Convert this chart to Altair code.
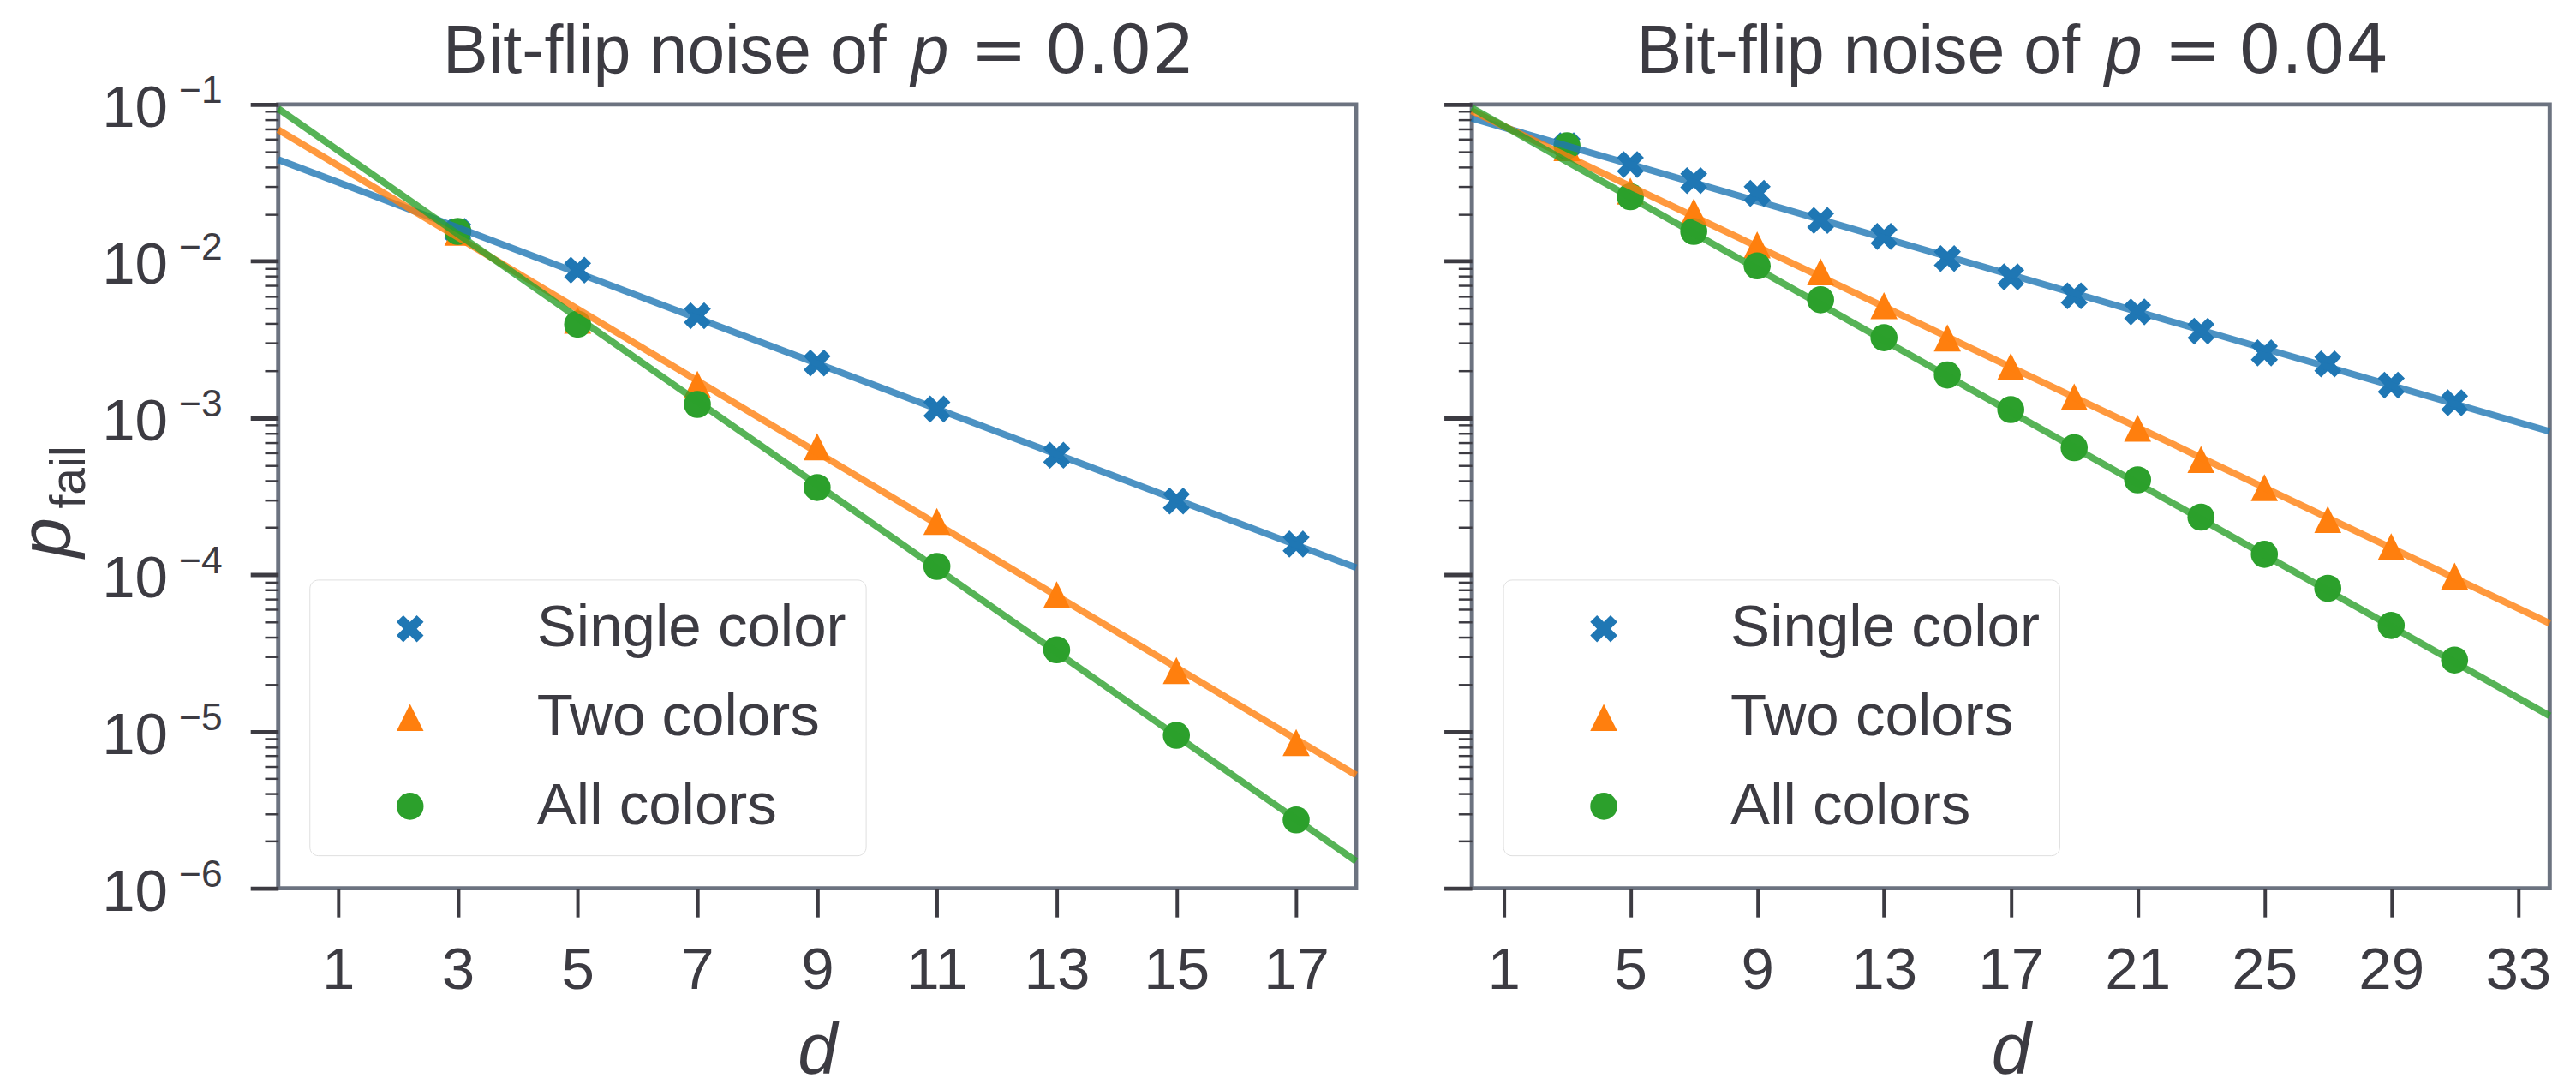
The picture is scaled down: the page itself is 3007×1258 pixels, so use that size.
import altair as alt
import pandas as pd

FONT = "Liberation Sans"
MATH_FONT = "DejaVu Sans"
TXT = "#3c3b42"
FRAME = "#6c7380"

series = ["Single color", "Two colors", "All colors"]
colors = ["#1f77b4", "#ff7f0e", "#2ca02c"]

# ---- p = 0.02 panel ----
d_left = [3, 5, 7, 9, 11, 13, 15, 17]
single_left = [0.0155, 0.00877, 0.00449, 0.00224, 0.00114, 0.000578, 0.000295, 0.000157]
two_left = [0.0153, 0.0042, 0.00164, 0.000655, 0.000219, 7.45e-5, 2.45e-5, 8.5e-6]
all_left = [0.0155, 0.00396, 0.00122, 0.00036, 0.000113, 3.32e-5, 9.46e-6, 2.73e-6]

fit_d_left = [0, 18]
fit_single_left = [0.0445, 1.11e-4]
fit_two_left = [0.0689, 5.28e-6]
fit_all_left = [0.094, 1.49e-6]

# ---- p = 0.04 panel ----
d_right = [3, 5, 7, 9, 11, 13, 15, 17, 19, 21, 23, 25, 27, 29, 31]
single_right = [0.0545, 0.0414, 0.0327, 0.0271, 0.0182, 0.0144, 0.0104, 0.00794,
                0.00601, 0.00475, 0.00358, 0.0026, 0.00221, 0.00162, 0.00125]
two_right = [0.053, 0.028, 0.0206, 0.0127, 0.00855, 0.0052, 0.00324, 0.00213,
             0.00136, 0.00086, 0.000543, 0.00036, 0.000225, 0.000151, 9.8e-5]
all_right = [0.0545, 0.0258, 0.0155, 0.00933, 0.00567, 0.00325, 0.00188, 0.00113,
             0.000646, 0.000403, 0.000233, 0.000135, 8.2e-5, 4.75e-5, 2.86e-5]

fit_d_right = [0, 34]
fit_single_right = [0.0817, 8.2e-4]
fit_two_right = [0.091, 4.9e-5]
fit_all_right = [0.095, 1.26e-5]

# ---- ticks ----
major_ticks = [1e-1, 1e-2, 1e-3, 1e-4, 1e-5, 1e-6]
exponents = ["\u22121", "\u22122", "\u22123", "\u22124", "\u22125", "\u22126"]
minor_ticks = [k * 10.0 ** e for e in range(-6, -1) for k in range(2, 10)]
x_ticks_left = [1, 3, 5, 7, 9, 11, 13, 15, 17]
x_ticks_right = [1, 5, 9, 13, 17, 21, 25, 29, 33]

W, H = 1275, 927

X_PATH = "M0.5,-1L1,-0.5L0.5,0L1,0.5L0.5,1L0,0.5L-0.5,1L-1,0.5L-0.5,0L-1,-0.5L-0.5,-1L0,-0.5Z"
TRI_PATH = "M0,-1L1,1L-1,1Z"
shapes = [X_PATH, TRI_PATH, "circle"]


def long_df(ds, a, b, c):
    rows = []
    for name, vals in zip(series, [a, b, c]):
        for d, v in zip(ds, vals):
            rows.append({"d": d, "p": v, "series": name})
    return pd.DataFrame(rows)


def text_layer(s, x, y, size, italic=False, align="left", angle=0, font=FONT):
    kw = dict(align=align, baseline="alphabetic", fontSize=size, font=font, color=TXT)
    if italic:
        kw["fontStyle"] = "italic"
    if angle:
        kw["angle"] = angle
    return alt.Chart(pd.DataFrame({"t": [s]})).mark_text(**kw).encode(
        x=alt.value(x), y=alt.value(y), text="t:N")


def panel(pts_df, fit_df, xdom, xticks, pval, left):
    xscale = alt.Scale(domain=xdom, nice=False, zero=False)
    yscale = alt.Scale(type="log", domain=[1e-6, 1e-1], nice=False)
    xaxis = alt.Axis(values=xticks, title="d", titleFontStyle="italic", titleFontSize=84,
                     titleFontWeight="normal", titlePadding=21,
                     labelFontSize=70, labelPadding=29, tickSize=34, tickWidth=4,
                     labelFlush=False, labelOverlap=False, grid=False, domain=False)
    ymajor_kw = dict(values=major_ticks, title=None, tickSize=33, tickWidth=5,
                     orient="left", grid=False, domain=False)
    if left:
        ymajor = alt.Axis(labelExpr="'10'", labelFontSize=70, labelPadding=98,
                          labelBaseline="middle", labelOffset=5, **ymajor_kw)
    else:
        ymajor = alt.Axis(labels=False, **ymajor_kw)
    yminor = alt.Axis(values=minor_ticks, title=None, labels=False, tickSize=16,
                      tickWidth=2.5, orient="left", grid=False, domain=False)
    legend = alt.Legend(title=None, orient="none", legendX=37, legendY=562,
                        padding=23, symbolOffset=61, labelOffset=115, rowPadding=35,
                        symbolSize=1024, symbolStrokeWidth=0, labelFontSize=70,
                        labelFont=FONT, labelColor=TXT, labelLimit=1000,
                        strokeColor="#dedede", fillColor="rgba(255,255,255,0.8)",
                        cornerRadius=10)

    points = alt.Chart(pts_df).mark_point(filled=True, size=1024, opacity=1,
                                          strokeWidth=0).encode(
        x=alt.X("d:Q", scale=xscale, axis=xaxis),
        y=alt.Y("p:Q", scale=yscale, axis=ymajor),
        color=alt.Color("series:N", scale=alt.Scale(domain=series, range=colors),
                        legend=legend),
        shape=alt.Shape("series:N", scale=alt.Scale(domain=series, range=shapes),
                        legend=legend),
    )
    lines = alt.Chart(fit_df).mark_line(strokeWidth=8, opacity=0.8).encode(
        x=alt.X("d:Q", scale=xscale, axis=xaxis),
        y=alt.Y("p:Q", scale=yscale, axis=yminor),
        stroke=alt.Stroke("series:N", scale=alt.Scale(domain=series, range=colors),
                          legend=None),
    )
    cx = W / 2
    layers = [points, lines,
              text_layer("Bit-flip noise of", cx + 82, -37, 80, align="right"),
              text_layer("p", cx + 111, -37, 80, italic=True),
              text_layer("=", cx + 215, -37, 80, align="center", font=MATH_FONT),
              text_layer(pval, cx + 269, -37, 80, font=MATH_FONT)]
    if left:
        exp_df = pd.DataFrame({"p": major_ticks, "e": exponents})
        exps = alt.Chart(exp_df).mark_text(align="right", baseline="alphabetic",
                                           fontSize=45, dy=-2, font=FONT,
                                           color=TXT).encode(
            y=alt.Y("p:Q", scale=yscale, axis=None), x=alt.value(-66), text="e:N")
        layers += [exps,
                   text_layer("p", -246, 536, 85, italic=True, angle=270),
                   text_layer("fail", -229, 478, 58, angle=270)]
    return alt.layer(*layers).properties(width=W, height=H).resolve_axis(y="independent")


pts_left = long_df(d_left, single_left, two_left, all_left)
fit_left = long_df(fit_d_left, fit_single_left, fit_two_left, fit_all_left)
pts_right = long_df(d_right, single_right, two_right, all_right)
fit_right = long_df(fit_d_right, fit_single_right, fit_two_right, fit_all_right)

left = panel(pts_left, fit_left, [0, 18], x_ticks_left, "0.02", True)
right = panel(pts_right, fit_right, [0, 34], x_ticks_right, "0.04", False)

chart = alt.hconcat(left, right, spacing=80).resolve_scale(
    x="independent", y="independent", color="independent",
    shape="independent", stroke="independent"
).resolve_legend(color="independent", shape="independent").properties(
    padding={"left": 4, "top": 3, "right": 4, "bottom": -20}
).configure(font=FONT).configure_view(
    stroke=FRAME, strokeWidth=5
).configure_axis(
    labelFont=FONT, titleFont=FONT, labelColor=TXT, titleColor=TXT, tickColor=TXT,
    grid=False, domain=False
)

chart.save("out.html", embed_options={"renderer": "svg", "actions": False})
